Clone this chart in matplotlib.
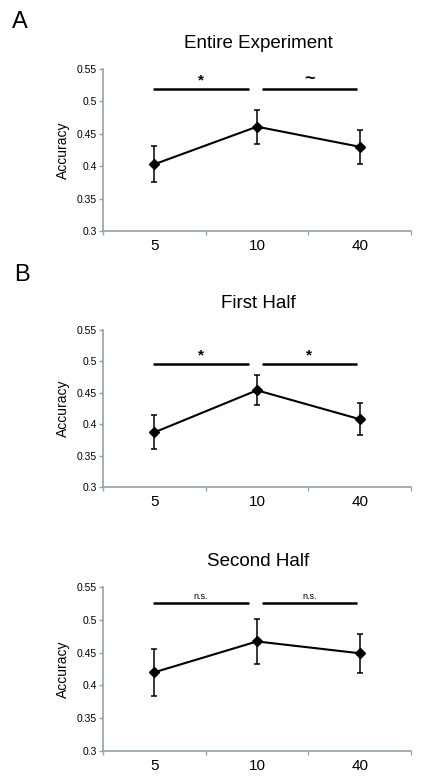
import matplotlib
matplotlib.use('Agg')
import matplotlib.pyplot as plt
import numpy as np

plt.rcParams['font.family'] = ['Liberation Sans', 'DejaVu Sans']

# Data
categories = ['5', '10', '40']
titles = ['Entire Experiment', 'First Half', 'Second Half']
acc_entire = [0.403, 0.461, 0.430]
err_entire = [0.028, 0.026, 0.026]
acc_first = [0.387, 0.454, 0.408]
err_first = [0.027, 0.024, 0.025]
acc_second = [0.420, 0.467, 0.449]
err_second = [0.036, 0.034, 0.030]
sig_entire = ['*', '~']
sig_first = ['*', '*']
sig_second = ['n.s.', 'n.s.']
bar_level = [0.519, 0.496, 0.525]
yticks = [0.3, 0.35, 0.4, 0.45, 0.5, 0.55]
ytick_labels = ['0.3', '0.35', '0.4', '0.45', '0.5', '0.55']

axis_col = '#8fa4a8'

W, H = 424, 778
fig = plt.figure(figsize=(W / 100, H / 100), dpi=100)

# axes boxes in pixels: (left, top, right, bottom)
boxes = [(103, 69, 411, 231), (103, 330, 411, 487), (103, 587, 411, 751)]
title_y = [43, 303, 561]

panels = [(acc_entire, err_entire, sig_entire),
          (acc_first, err_first, sig_first),
          (acc_second, err_second, sig_second)]

for i, (vals, errs, sigs) in enumerate(panels):
    l, t, r, b = boxes[i]
    ax = fig.add_axes([l / W, 1 - b / H, (r - l) / W, (b - t) / H])
    x = np.arange(len(categories)) + 0.5
    ax.errorbar(x, vals, yerr=errs, color='black', lw=1.5, marker='D',
                markersize=5, capsize=2.5, elinewidth=1.1, capthick=1.1,
                zorder=3)
    ax.set_xlim(0, 3)
    ax.set_ylim(0.3, 0.55)
    ax.set_yticks(yticks)
    ax.set_yticklabels(ytick_labels, fontsize=7.5)
    ax.set_xticks([0, 1, 2, 3])
    ax.set_xticklabels([])
    ax.set_xticks(x, minor=True)
    ax.set_xticklabels(categories, minor=True, fontsize=11)
    ax.tick_params(axis='x', which='minor', length=0, pad=6)
    ax.tick_params(axis='x', which='major', length=3, color=axis_col, width=1)
    ax.tick_params(axis='y', length=3, color=axis_col, width=1, pad=1.5)
    for s in ['top', 'right']:
        ax.spines[s].set_visible(False)
    for s in ['left', 'bottom']:
        ax.spines[s].set_color(axis_col)
        ax.spines[s].set_linewidth(1.2)
    ax.set_ylabel('Accuracy', fontsize=10, labelpad=5)

    # significance bars
    yb = bar_level[i]
    spans = [(0.49, 1.42), (1.55, 2.47)]
    for (x0, x1), s in zip(spans, sigs):
        ax.plot([x0, x1], [yb, yb], color='black', lw=1.8, solid_capstyle='butt')
        if s == 'n.s.':
            ax.text((x0 + x1) / 2, yb + 0.004, s, ha='center', va='bottom', fontsize=6.5)
        elif s == '~':
            ax.text((x0 + x1) / 2, yb + 0.001, s, ha='center', va='bottom',
                    fontsize=13, fontweight='bold')
        else:
            ax.text((x0 + x1) / 2, yb + 0.002, s, ha='center', va='bottom',
                    fontsize=11, fontweight='bold')

    fig.text(258 / W, 1 - title_y[i] / H, titles[i], ha='center', va='center',
             fontsize=13.5)

fig.text(12 / W, 1 - 22 / H, 'A', ha='left', va='center', fontsize=17)
fig.text(14 / W, 1 - 275 / H, 'B', ha='left', va='center', fontsize=17)

fig.savefig('out.png', dpi=100)
